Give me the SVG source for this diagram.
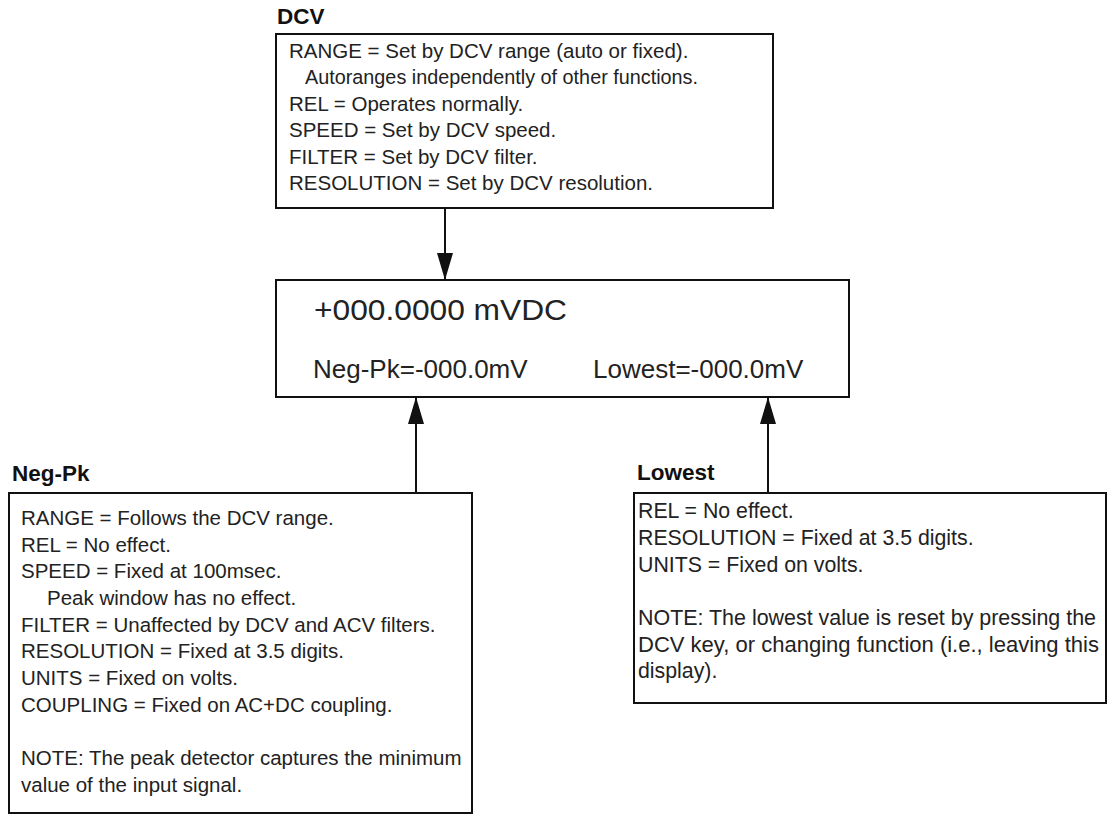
<svg xmlns="http://www.w3.org/2000/svg" width="1109" height="815" viewBox="0 0 1109 815">
<style>
.box{fill:#fff;stroke:#111;stroke-width:2}
.t{font-family:"Liberation Sans",Arial,sans-serif;font-size:20.5px;fill:#222}
.tl{font-family:"Liberation Sans",Arial,sans-serif;font-size:21.3px;fill:#222}
.h{font-family:"Liberation Sans",Arial,sans-serif;font-size:22.5px;font-weight:bold;fill:#111}
.d1{font-family:"Liberation Sans",Arial,sans-serif;font-size:30px;fill:#222}
.d2{font-family:"Liberation Sans",Arial,sans-serif;font-size:26px;fill:#222}
.c{stroke:#111;stroke-width:2;fill:none}
</style>
<defs>
<marker id="ah" markerUnits="userSpaceOnUse" markerWidth="27" markerHeight="16" refX="27" refY="8" orient="auto">
<path d="M0,0 L27,8 L0,16 z" fill="#111"/>
</marker>
</defs>
<rect width="1109" height="815" fill="#fff"/>
<g id="dcv">
<text class="h" x="277" y="24">DCV</text>
<rect class="box" x="276" y="34" width="497" height="174"/>
<text class="t" x="289" y="58">RANGE = Set by DCV range (auto or fixed).</text>
<text class="t" x="305" y="84" textLength="393" lengthAdjust="spacingAndGlyphs">Autoranges independently of other functions.</text>
<text class="t" x="289" y="110.5">REL = Operates normally.</text>
<text class="t" x="289" y="137">SPEED = Set by DCV speed.</text>
<text class="t" x="289" y="163.5">FILTER = Set by DCV filter.</text>
<text class="t" x="289" y="190">RESOLUTION = Set by DCV resolution.</text>
</g>
<g id="display">
<rect class="box" x="276" y="280" width="573" height="117"/>
<text class="d1" x="314" y="320" textLength="253" lengthAdjust="spacingAndGlyphs">+000.0000 mVDC</text>
<text class="d2" x="313" y="378">Neg-Pk=-000.0mV</text>
<text class="d2" x="593" y="378">Lowest=-000.0mV</text>
</g>
<g id="negpk">
<text class="h" x="12" y="481">Neg-Pk</text>
<rect class="box" x="9" y="493" width="463" height="320"/>
<text class="t" x="21" y="525">RANGE = Follows the DCV range.</text>
<text class="t" x="21" y="551.7">REL = No effect.</text>
<text class="t" x="21" y="578.3">SPEED = Fixed at 100msec.</text>
<text class="t" x="47" y="605">Peak window has no effect.</text>
<text class="t" x="21" y="631.7">FILTER = Unaffected by DCV and ACV filters.</text>
<text class="t" x="21" y="658.3">RESOLUTION = Fixed at 3.5 digits.</text>
<text class="t" x="21" y="685">UNITS = Fixed on volts.</text>
<text class="t" x="21" y="711.7">COUPLING = Fixed on AC+DC coupling.</text>
<text class="t" x="21" y="765">NOTE: The peak detector captures the minimum</text>
<text class="t" x="21" y="791.7">value of the input signal.</text>
</g>
<g id="lowest">
<text class="h" x="637" y="480">Lowest</text>
<rect class="box" x="634" y="493" width="472" height="210"/>
<text class="tl" x="638" y="518">REL = No effect.</text>
<text class="tl" x="638" y="545">RESOLUTION = Fixed at 3.5 digits.</text>
<text class="tl" x="638" y="571.7">UNITS = Fixed on volts.</text>
<text class="tl" x="638" y="625" textLength="458" lengthAdjust="spacingAndGlyphs">NOTE: The lowest value is reset by pressing the</text>
<text class="tl" x="638" y="651.7" textLength="461" lengthAdjust="spacingAndGlyphs">DCV key, or changing function (i.e., leaving this</text>
<text class="tl" x="638" y="678.3">display).</text>
</g>
<g id="connectors">
<line class="c" x1="445" y1="208" x2="445" y2="280" marker-end="url(#ah)"/>
<line class="c" x1="416" y1="493" x2="416" y2="397" marker-end="url(#ah)"/>
<line class="c" x1="768" y1="493" x2="768" y2="397" marker-end="url(#ah)"/>
</g>
</svg>
